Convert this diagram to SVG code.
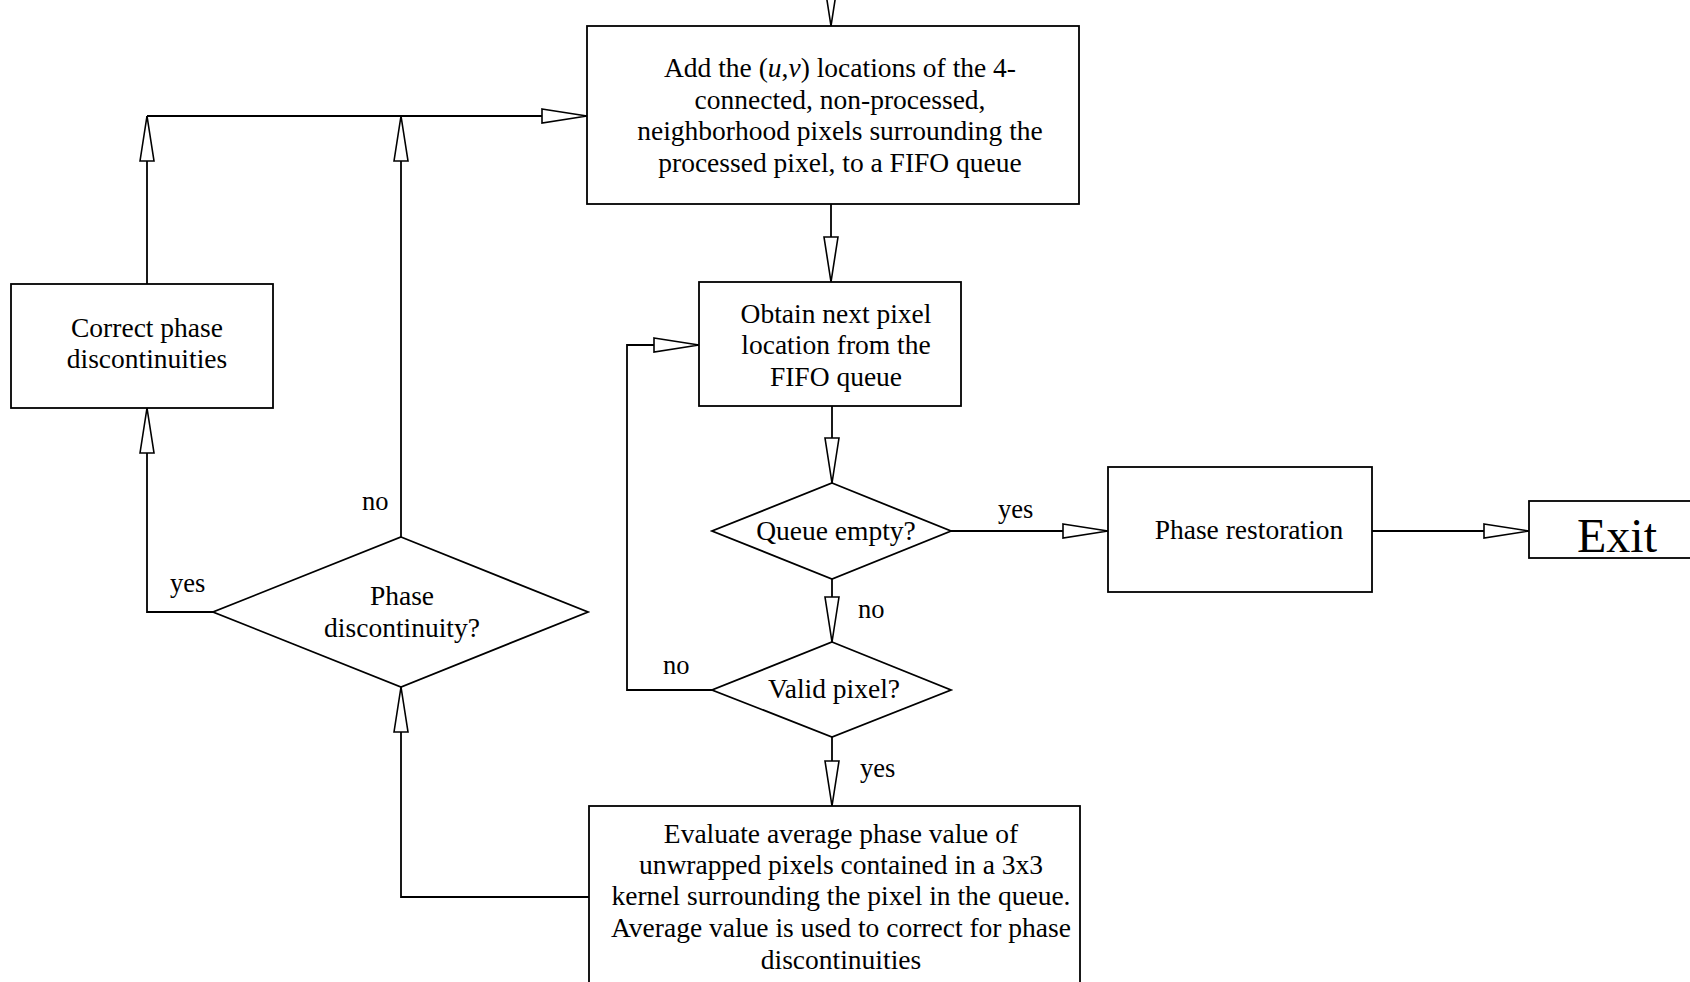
<svg xmlns="http://www.w3.org/2000/svg" width="1690" height="982" viewBox="0 0 1690 982">
  <style>
    .box { fill: #fff; stroke: #000; stroke-width: 1.8; }
    .wire { fill: none; stroke: #000; stroke-width: 1.8; marker-end: url(#arr); }
    .plain { fill: none; stroke: #000; stroke-width: 1.8; }
    text { font-family: "Liberation Serif", "Times New Roman", serif; fill: #000; }
    .t { font-size: 27.5px; text-anchor: middle; }
    .lbl { font-size: 26.5px; }
    .exit { font-size: 48px; }
  </style>
  <defs>
    <marker id="arr" markerUnits="userSpaceOnUse" markerWidth="50" markerHeight="20" refX="46" refY="10" orient="auto" viewBox="0 0 50 20">
      <path d="M1,3 L46,10 L1,17 Z" fill="#fff" stroke="#000" stroke-width="1.6"/>
    </marker>
  </defs>
  <rect width="1690" height="982" fill="#fff"/>

  <!-- connectors -->
  <g id="connectors">
    <path class="wire" d="M831,-40 V26"/>
    <path class="wire" d="M831,204 V282"/>
    <path class="wire" d="M832,406 V483"/>
    <path class="wire" d="M832,579 V642"/>
    <path class="wire" d="M951,531 H1108"/>
    <path class="wire" d="M1372,531 H1529"/>
    <path class="wire" d="M832,737 V806"/>
    <path class="wire" d="M712,690 H627 V345 H699"/>
    <path class="wire" d="M590,897 H401 V687"/>
    <path class="wire" d="M213,612 H147 V408"/>
    <path class="wire" d="M401,537 V116"/>
    <path class="wire" d="M147,284 V116"/>
    <path class="wire" d="M147,116 H587"/>
  </g>

  <!-- edge labels -->
  <g id="labels">
    <text class="lbl" x="362" y="510">no</text>
    <text class="lbl" x="170" y="592">yes</text>
    <text class="lbl" x="998" y="518">yes</text>
    <text class="lbl" x="858" y="618">no</text>
    <text class="lbl" x="663" y="674">no</text>
    <text class="lbl" x="860" y="777">yes</text>
  </g>

  <g id="add-neighbours">
    <rect class="box" x="587" y="26" width="492" height="178"/>
    <text class="t" x="840" y="77">Add the (<tspan font-style="italic">u</tspan>,<tspan font-style="italic">v</tspan>) locations of the 4-</text>
    <text class="t" x="840" y="109">connected, non-processed,</text>
    <text class="t" x="840" y="140">neighborhood pixels surrounding the</text>
    <text class="t" x="840" y="172">processed pixel, to a FIFO queue</text>
  </g>

  <g id="obtain-next">
    <rect class="box" x="699" y="282" width="262" height="124"/>
    <text class="t" x="836" y="323">Obtain next pixel</text>
    <text class="t" x="836" y="354">location from the</text>
    <text class="t" x="836" y="386">FIFO queue</text>
  </g>

  <g id="queue-empty">
    <polygon class="box" points="832,483 951,531 832,579 712,531"/>
    <text class="t" x="836" y="540">Queue empty?</text>
  </g>

  <g id="valid-pixel">
    <polygon class="box" points="832,642 951,690 832,737 712,690"/>
    <text class="t" x="834" y="698">Valid pixel?</text>
  </g>

  <g id="evaluate-average">
    <rect class="box" x="589" y="806" width="491" height="200"/>
    <text class="t" x="841" y="843">Evaluate average phase value of</text>
    <text class="t" x="841" y="874">unwrapped pixels contained in a 3x3</text>
    <text class="t" x="841" y="905">kernel surrounding the pixel in the queue.</text>
    <text class="t" x="841" y="937">Average value is used to correct for phase</text>
    <text class="t" x="841" y="969">discontinuities</text>
  </g>

  <g id="phase-discontinuity">
    <polygon class="box" points="401,537 588,612 401,687 213,612"/>
    <text class="t" x="402" y="605">Phase</text>
    <text class="t" x="402" y="637">discontinuity?</text>
  </g>

  <g id="correct-phase">
    <rect class="box" x="11" y="284" width="262" height="124"/>
    <text class="t" x="147" y="337">Correct phase</text>
    <text class="t" x="147" y="368">discontinuities</text>
  </g>

  <g id="phase-restoration">
    <rect class="box" x="1108" y="467" width="264" height="125"/>
    <text class="t" x="1249" y="539">Phase restoration</text>
  </g>

  <g id="exit">
    <rect class="box" x="1529" y="501" width="200" height="57"/>
    <text class="exit" x="1577" y="552">Exit</text>
  </g>
</svg>
